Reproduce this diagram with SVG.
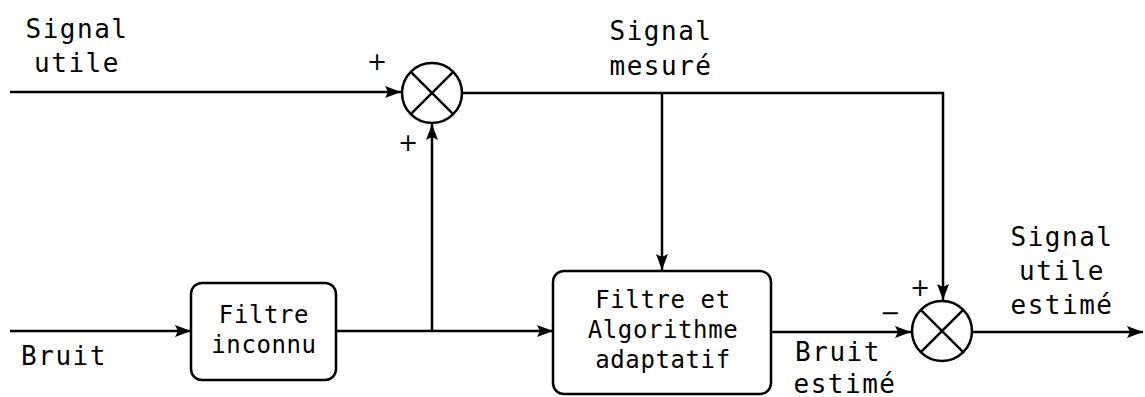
<svg xmlns="http://www.w3.org/2000/svg" width="1145" height="397" viewBox="0 0 1145 397">
<style>
.ln{fill:none;stroke:#000;stroke-width:2.5}
.box{fill:#fff;stroke:#000;stroke-width:2.5}
.lbl{font-family:"DejaVu Sans Mono","Liberation Mono",monospace;font-size:26px;letter-spacing:1.5px;text-anchor:middle;fill:#000}
.bt{font-family:"DejaVu Sans Mono","Liberation Mono",monospace;font-size:24px;letter-spacing:0.6px;text-anchor:middle;fill:#000}
.sg{font-family:"DejaVu Sans","Liberation Sans",sans-serif;font-size:24px;text-anchor:middle;fill:#000}
</style>
<defs>
<marker id="ar" viewBox="0 0 16 12" refX="16" refY="6" markerWidth="16" markerHeight="12" markerUnits="userSpaceOnUse" orient="auto">
<path d="M0,0 L16,6 L0,12 L3,6 Z" fill="#000"/>
</marker>
</defs>
<g id="connectors">
<path class="ln" d="M10,92 H401" marker-end="url(#ar)"/>
<path class="ln" d="M10,331 H191" marker-end="url(#ar)"/>
<path class="ln" d="M336,331 H553" marker-end="url(#ar)"/>
<path class="ln" d="M432,331 V124" marker-end="url(#ar)"/>
<path class="ln" d="M463,93 H943 V300" marker-end="url(#ar)"/>
<path class="ln" d="M662,93 V270" marker-end="url(#ar)"/>
<path class="ln" d="M771,332 H911" marker-end="url(#ar)"/>
<path class="ln" d="M973,332 H1143" marker-end="url(#ar)"/>
</g>
<g id="sum1">
<circle class="ln" cx="432" cy="93" r="30"/>
<path class="ln" d="M410.8,71.8 L453.2,114.2 M453.2,71.8 L410.8,114.2"/>
<text class="sg" x="377" y="70">+</text>
<text class="sg" x="408" y="151">+</text>
</g>
<g id="sum2">
<circle class="ln" cx="942" cy="331" r="30"/>
<path class="ln" d="M920.8,309.8 L963.2,352.2 M963.2,309.8 L920.8,352.2"/>
<text class="sg" x="920" y="296">+</text>
<text class="sg" x="890" y="321">−</text>
</g>
<g id="filtre-inconnu">
<rect class="box" x="191" y="283" width="145" height="97" rx="11"/>
<text class="bt" x="264" y="323">Filtre</text>
<text class="bt" x="264" y="353">inconnu</text>
</g>
<g id="filtre-adaptatif">
<rect class="box" x="553" y="271" width="218" height="123" rx="11"/>
<text class="bt" x="663" y="308">Filtre et</text>
<text class="bt" x="663" y="338">Algorithme</text>
<text class="bt" x="663" y="368">adaptatif</text>
</g>
<g id="labels">
<text class="lbl" x="77" y="38">Signal</text>
<text class="lbl" x="77" y="72">utile</text>
<text class="lbl" x="661" y="40">Signal</text>
<text class="lbl" x="661" y="75">mesuré</text>
<text class="lbl" x="64" y="365">Bruit</text>
<text class="lbl" x="838" y="361">Bruit</text>
<text class="lbl" x="845" y="393">estimé</text>
<text class="lbl" x="1062" y="246">Signal</text>
<text class="lbl" x="1062" y="280">utile</text>
<text class="lbl" x="1062" y="314">estimé</text>
</g>
</svg>
